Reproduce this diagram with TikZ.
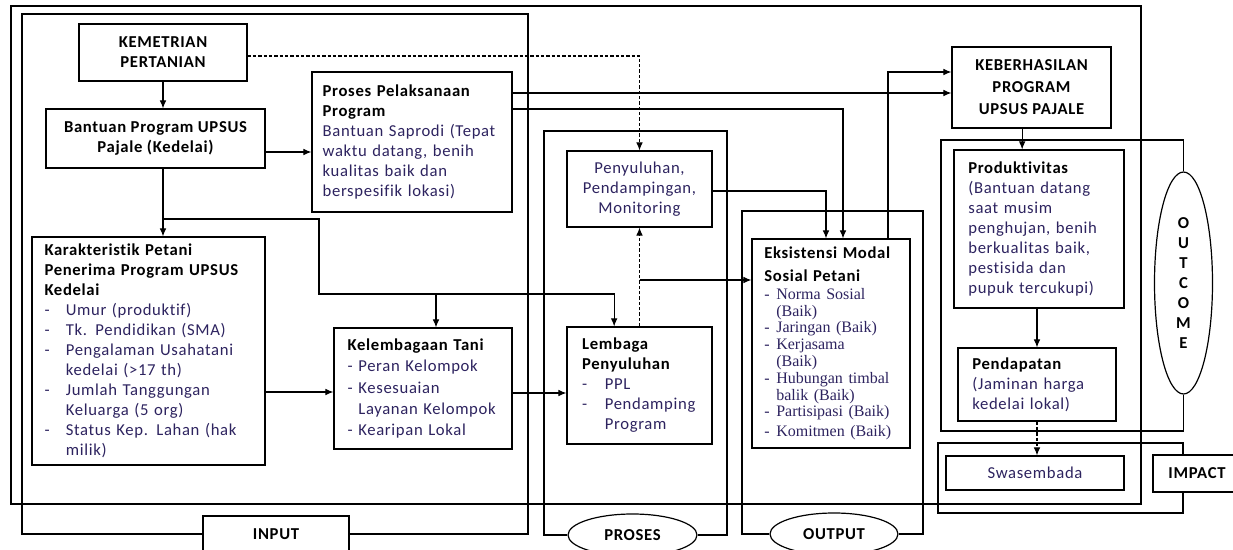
\documentclass[tikz,border=0pt]{standalone}
\usepackage{fontspec}
\setmainfont{Carlito}[LetterSpace=4,Ligatures=CommonOff]
\newfontfamily\srf{Liberation Serif}
\usetikzlibrary{arrows.meta}
\usetikzlibrary{shapes.geometric}
\definecolor{txtnavy}{RGB}{45,35,95}
\tikzstyle{box}=[draw=black,line width=0.9pt,inner sep=0pt,text=txtnavy,font=\fontsize{12.5}{15}\selectfont]
\tikzstyle{listbox}=[box,align=left]
\tikzstyle{tagbox}=[box,text=black,font=\bfseries\fontsize{12.5}{15}\selectfont]
\tikzstyle{frameline}=[draw=black,line width=0.8pt]
\tikzstyle{arr}=[draw=black,line width=0.8pt,-{Latex[length=6pt,width=5pt]}]
\tikzstyle{dasharr}=[arr,dash pattern=on 2.5pt off 1.5pt]
\tikzstyle{oval}=[ellipse,draw=black,line width=0.9pt,inner sep=0pt,font=\bfseries\fontsize{12.5}{15}\selectfont]
\newcommand{\hd}[1]{{\color{black}\bfseries #1}}
\newcommand{\bul}[2][16pt]{\makebox[#1][l]{-}#2}
\newcommand{\cnt}[2][16pt]{\hspace*{#1}#2}

\begin{document}
\begin{tikzpicture}[x=0.75pt,y=-0.75pt]
    \useasboundingbox (0,0) rectangle (1233,550);
    \clip (0,0) rectangle (1233,550);
    \draw[frameline] (11,6) rectangle (1141,504);

    % input
    \node[box,minimum width=126pt,minimum height=42.75pt,align=center] (kem) at (163,52.5) {\hd{KEMETRIAN}\\\hd{PERTANIAN}};
    \node[box,minimum width=164.25pt,minimum height=44.25pt,align=center] (bant) at (155.5,138.5) {\hd{Bantuan Program UPSUS}\\\hd{Pajale (Kedelai)}};
    \node[listbox,minimum width=150pt,minimum height=105pt,text width=134pt] (proses) at (412,142) {\hd{Proses Pelaksanaan}\\
      \hd{Program}\\Bantuan Saprodi (Tepat\\waktu datang, benih\\kualitas baik dan\\berspesifik lokasi)};
    \node[listbox,minimum width=174.75pt,minimum height=171pt,text width=156pt] (karak) at (148.5,351) {\hd{Karakteristik Petani}\\
      \hd{Penerima Program UPSUS}\\\hd{Kedelai}\\
      \bul{Umur (produktif)}\\\bul{Tk. Pendidikan (SMA)}\\
      \bul{Pengalaman Usahatani}\\\cnt{kedelai (>17 th)}\\
      \bul{Jumlah Tanggungan}\\\cnt{Keluarga (5 org)}\\
      \bul{Status Kep. Lahan (hak}\\\cnt{milik)}};
    \node[listbox,minimum width=133.5pt,minimum height=90.75pt,text width=113pt] (kel) at (423,388.5) {\hd{Kelembagaan Tani}\\[1pt]
      \bul[8pt]{Peran Kelompok}\\[1pt]\bul[8pt]{Kesesuaian}\\[1pt]
      \cnt[8pt]{Layanan Kelompok}\\[1pt]\bul[8pt]{Kearipan Lokal}};
    \node[tagbox,minimum width=109.5pt,minimum height=27pt] (inp) at (276,534) {INPUT};

    % proses
    \node[box,minimum width=108.75pt,minimum height=57pt,align=center] (peny) at (639.5,189) {Penyuluhan,\\Pendampingan,\\Monitoring};
    \node[listbox,minimum width=108.75pt,minimum height=87.75pt,text width=86pt] (lemb) at (639.5,385.5) {\hd{Lembaga}\\\hd{Penyuluhan}\\
      \bul[17pt]{PPL}\\\bul[17pt]{Pendamping}\\\cnt[17pt]{Program}};
    \node[oval,minimum width=96.75pt,minimum height=31.5pt] (pro) at (632.5,535) {PROSES};

    % output
    \node[listbox,minimum width=118.5pt,minimum height=156.75pt,text width=100pt] (eks) at (831,343.5) {\hd{Eksistensi Modal}\\[2pt]
      \hd{Sosial Petani}\\[1pt]\srf\fontsize{12}{12.6}\selectfont
      \bul[9pt]{Norma Sosial}\\\cnt[9pt]{(Baik)}\\\bul[9pt]{Jaringan (Baik)}\\
      \bul[9pt]{Kerjasama}\\\cnt[9pt]{(Baik)}\\\bul[9pt]{Hubungan timbal}\\
      \cnt[9pt]{balik (Baik)}\\\bul[9pt]{Partisipasi (Baik)}\\\bul[9pt]{Komitmen (Baik)}};
    \node[oval,minimum width=96pt,minimum height=31.5pt] (outp) at (834,534) {OUTPUT};

    % outcome and impact
    \node[box,minimum width=119.25pt,minimum height=60.75pt,align=center] (keb) at (1031.5,87.5) {\hd{KEBERHASILAN}\\[1.5pt]
      \hd{PROGRAM}\\[1.5pt]\hd{UPSUS PAJALE}};
    \node[listbox,minimum width=127.5pt,minimum height=118.5pt,text width=106pt] (prod) at (1039,229) {\hd{Produktivitas}\\
      (Bantuan datang\\saat musim\\penghujan, benih\\berkualitas baik,\\pestisida dan\\pupuk tercukupi)};
    \node[listbox,minimum width=118.5pt,minimum height=54.75pt,text width=97pt] (pend) at (1037,384.5) {\hd{Pendapatan}\\(Jaminan harga\\kedelai lokal)};
    \node[box,minimum width=133.5pt,minimum height=25.5pt] (swa) at (1035,473) {Swasembada};
    \node[oval,minimum width=43.5pt,minimum height=166.5pt,align=center] (outc) at (1183.5,283) {O\\U\\T\\C\\O\\M\\E};
    \node[tagbox,minimum width=66pt,minimum height=27.75pt] (imp) at (1197,473.5) {IMPACT};

    % group frames
    \draw[frameline] (inp.west) -| (22,14) -| (inp.east -| 528,0) -- (inp.east);
    \draw[frameline] (pro.west) -| (544,131) -- (727,131) |- (pro.east);
    \draw[frameline] (outp.west) -| (742,211) -- (923,211) |- (outp.east);
    \draw[frameline] (outc.north) |- (941,140) -- (941,431) -| (outc.south);
    \draw[frameline] ([xshift=-10.5pt]imp.north) |- (938,443) -- (938,513) -| ([xshift=-10.5pt]imp.south);

    % connectors
    \draw[arr] (kem.south) -- (kem.south |- bant.north);
    \draw[arr] (bant.east |- 0,152) -- (proses.west |- 0,152);
    \draw[arr] (kem.south |- bant.south) -- (kem.south |- karak.north);
    \coordinate (split) at (kem.south |- 0,219);
    \coordinate (bend) at (319,294);
    \coordinate (tee) at (436,294);
    \draw[arr] (split) -| (bend) -| ([xshift=-19pt]lemb.north);
    \draw[arr] (tee) -- (tee |- kel.north);
    \draw[arr] (karak.east |- 0,392) -- (kel.west |- 0,392);
    \draw[arr] (kel.east |- 0,393) -- (lemb.west |- 0,393);
    \draw[dasharr] (kem.east |- 0,56) -| (peny.north);
    \draw[dasharr] (lemb.north) -- (peny.south);
    \coordinate (tap) at (lemb.north |- 0,280);
    \draw[arr] (tap) -- (eks.west |- tap);
    \draw[arr] (peny.east |- 0,191) -| ([xshift=-3.75pt]eks.north);
    \draw[arr] (proses.east |- 0,109) -| ([xshift=9pt]eks.north);
    \draw[arr] (proses.east |- 0,93) -- (keb.west |- 0,93);
    \draw[arr] ([xshift=42.75pt]eks.north) |- (keb.west |- 0,72);
    \draw[arr] ([xshift=-7pt]keb.south) -- ([xshift=-7pt]keb.south |- prod.north);
    \draw[arr] (pend.north |- prod.south) -- (pend.north);
    \draw[dasharr] (pend.south) -- (pend.south |- swa.north);
\end{tikzpicture}
\end{document}
